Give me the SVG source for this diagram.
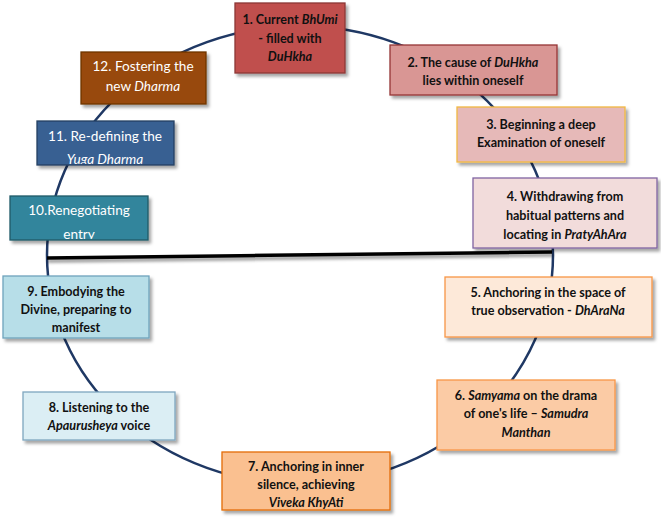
<svg xmlns="http://www.w3.org/2000/svg" width="661" height="522" viewBox="0 0 661 522">
<style>
.t{font-family:Lato,"Liberation Sans",sans-serif;font-size:12.6px;font-weight:bold;fill:#111;text-anchor:middle}
.w{font-family:Lato,"Liberation Sans",sans-serif;font-size:13.6px;fill:#fff;text-anchor:middle}
.i{font-style:italic}
.box{filter:url(#sh);stroke-width:1.3}
</style>
<defs>
<filter id="sh" x="-10%" y="-10%" width="130%" height="140%">
<feDropShadow dx="2.5" dy="3" stdDeviation="1.8" flood-color="#000" flood-opacity="0.35"/>
</filter>
<filter id="lsh" x="-5%" y="-100%" width="110%" height="400%">
<feDropShadow dx="1" dy="3" stdDeviation="1.5" flood-color="#000" flood-opacity="0.4"/>
</filter>
<clipPath id="c10"><rect x="10" y="196" width="138" height="43"/></clipPath>
<clipPath id="c11"><rect x="37" y="121" width="137" height="43"/></clipPath>
</defs>
<rect width="661" height="522" fill="#fff"/>
<g id="connectors">
<ellipse cx="300" cy="255" rx="253" ry="229" fill="none" stroke="#1F3864" stroke-width="2.5"/>
<line x1="47" y1="258" x2="552" y2="252" stroke="#000" stroke-width="3.5" filter="url(#lsh)"/>
</g>
<g id="node1">
<rect class="box" x="235" y="3" width="110" height="70" fill="#C0504D" stroke="#8C3836"/>
<text class="t" x="290" y="24">1. Current <tspan class="i">BhUmi</tspan></text>
<text class="t" x="290" y="43">-  filled with</text>
<text class="t" x="290" y="61"><tspan class="i">DuHkha</tspan></text>
</g>
<g id="node2">
<rect class="box" x="390" y="45" width="167" height="50" fill="#D99694" stroke="#953735"/>
<text class="t" x="473" y="67">2. The cause of <tspan class="i">DuHkha</tspan></text>
<text class="t" x="473" y="85">lies within oneself</text>
</g>
<g id="node3">
<rect class="box" x="457" y="107" width="168" height="55" fill="#E6B9B8" stroke="#F2B843"/>
<text class="t" x="541" y="129">3. Beginning a deep</text>
<text class="t" x="541" y="147">Examination of oneself</text>
</g>
<g id="node4">
<rect class="box" x="473" y="178" width="184" height="70" fill="#F2DCDB" stroke="#8064A2"/>
<text class="t" x="565" y="201">4. Withdrawing from</text>
<text class="t" x="565" y="220">habitual patterns and</text>
<text class="t" x="565" y="239">locating in <tspan class="i">PratyAhAra</tspan></text>
</g>
<g id="node5">
<rect class="box" x="445" y="277" width="207" height="60" fill="#FDE9D9" stroke="#F79646"/>
<text class="t" x="548" y="297">5. Anchoring in the space of</text>
<text class="t" x="548" y="315">true observation - <tspan class="i">DhAraNa</tspan></text>
</g>
<g id="node6">
<rect class="box" x="437" y="380" width="178" height="70" fill="#FBCBA5" stroke="#F79646"/>
<text class="t" x="526" y="400">6. <tspan class="i">Samyama</tspan> on the drama</text>
<text class="t" x="526" y="418">of one's life – <tspan class="i">Samudra</tspan></text>
<text class="t" x="526" y="437"><tspan class="i">Manthan</tspan></text>
</g>
<g id="node7">
<rect class="box" x="222" y="452" width="168" height="58" fill="#FAC090" stroke="#E46C0A"/>
<text class="t" x="306" y="471">7. Anchoring in inner</text>
<text class="t" x="306" y="489">silence, achieving</text>
<text class="t" x="306" y="507"><tspan class="i">Viveka KhyAti</tspan></text>
</g>
<g id="node8">
<rect class="box" x="23" y="392" width="152" height="48" fill="#DBEEF4" stroke="#7FA7BF"/>
<text class="t" x="99" y="412">8. Listening to the</text>
<text class="t" x="99" y="430"><tspan class="i">Apaurusheya</tspan> voice</text>
</g>
<g id="node9">
<rect class="box" x="3" y="276" width="146" height="62" fill="#B7DEE8" stroke="#6FA3BC"/>
<text class="t" x="76" y="296">9. Embodying the</text>
<text class="t" x="76" y="314">Divine, preparing to</text>
<text class="t" x="76" y="332">manifest</text>
</g>
<g id="node10">
<rect class="box" x="10" y="196" width="138" height="44" fill="#31859C" stroke="#215968"/>
<g clip-path="url(#c10)">
<text class="w" x="79" y="215">10.Renegotiating</text>
<text class="w" x="79" y="239">entry</text>
</g>
</g>
<g id="node11">
<rect class="box" x="37" y="121" width="137" height="44" fill="#376092" stroke="#254061"/>
<g clip-path="url(#c11)">
<text class="w" x="105" y="141">11. Re-defining the</text>
<text class="w" x="105" y="164"><tspan class="i">Yuga Dharma</tspan></text>
</g>
</g>
<g id="node12">
<rect class="box" x="81" y="52" width="125" height="52" fill="#984807" stroke="#6F3505"/>
<text class="w" x="143" y="71">12. Fostering the</text>
<text class="w" x="143" y="91">new <tspan class="i">Dharma</tspan></text>
</g>
</svg>
